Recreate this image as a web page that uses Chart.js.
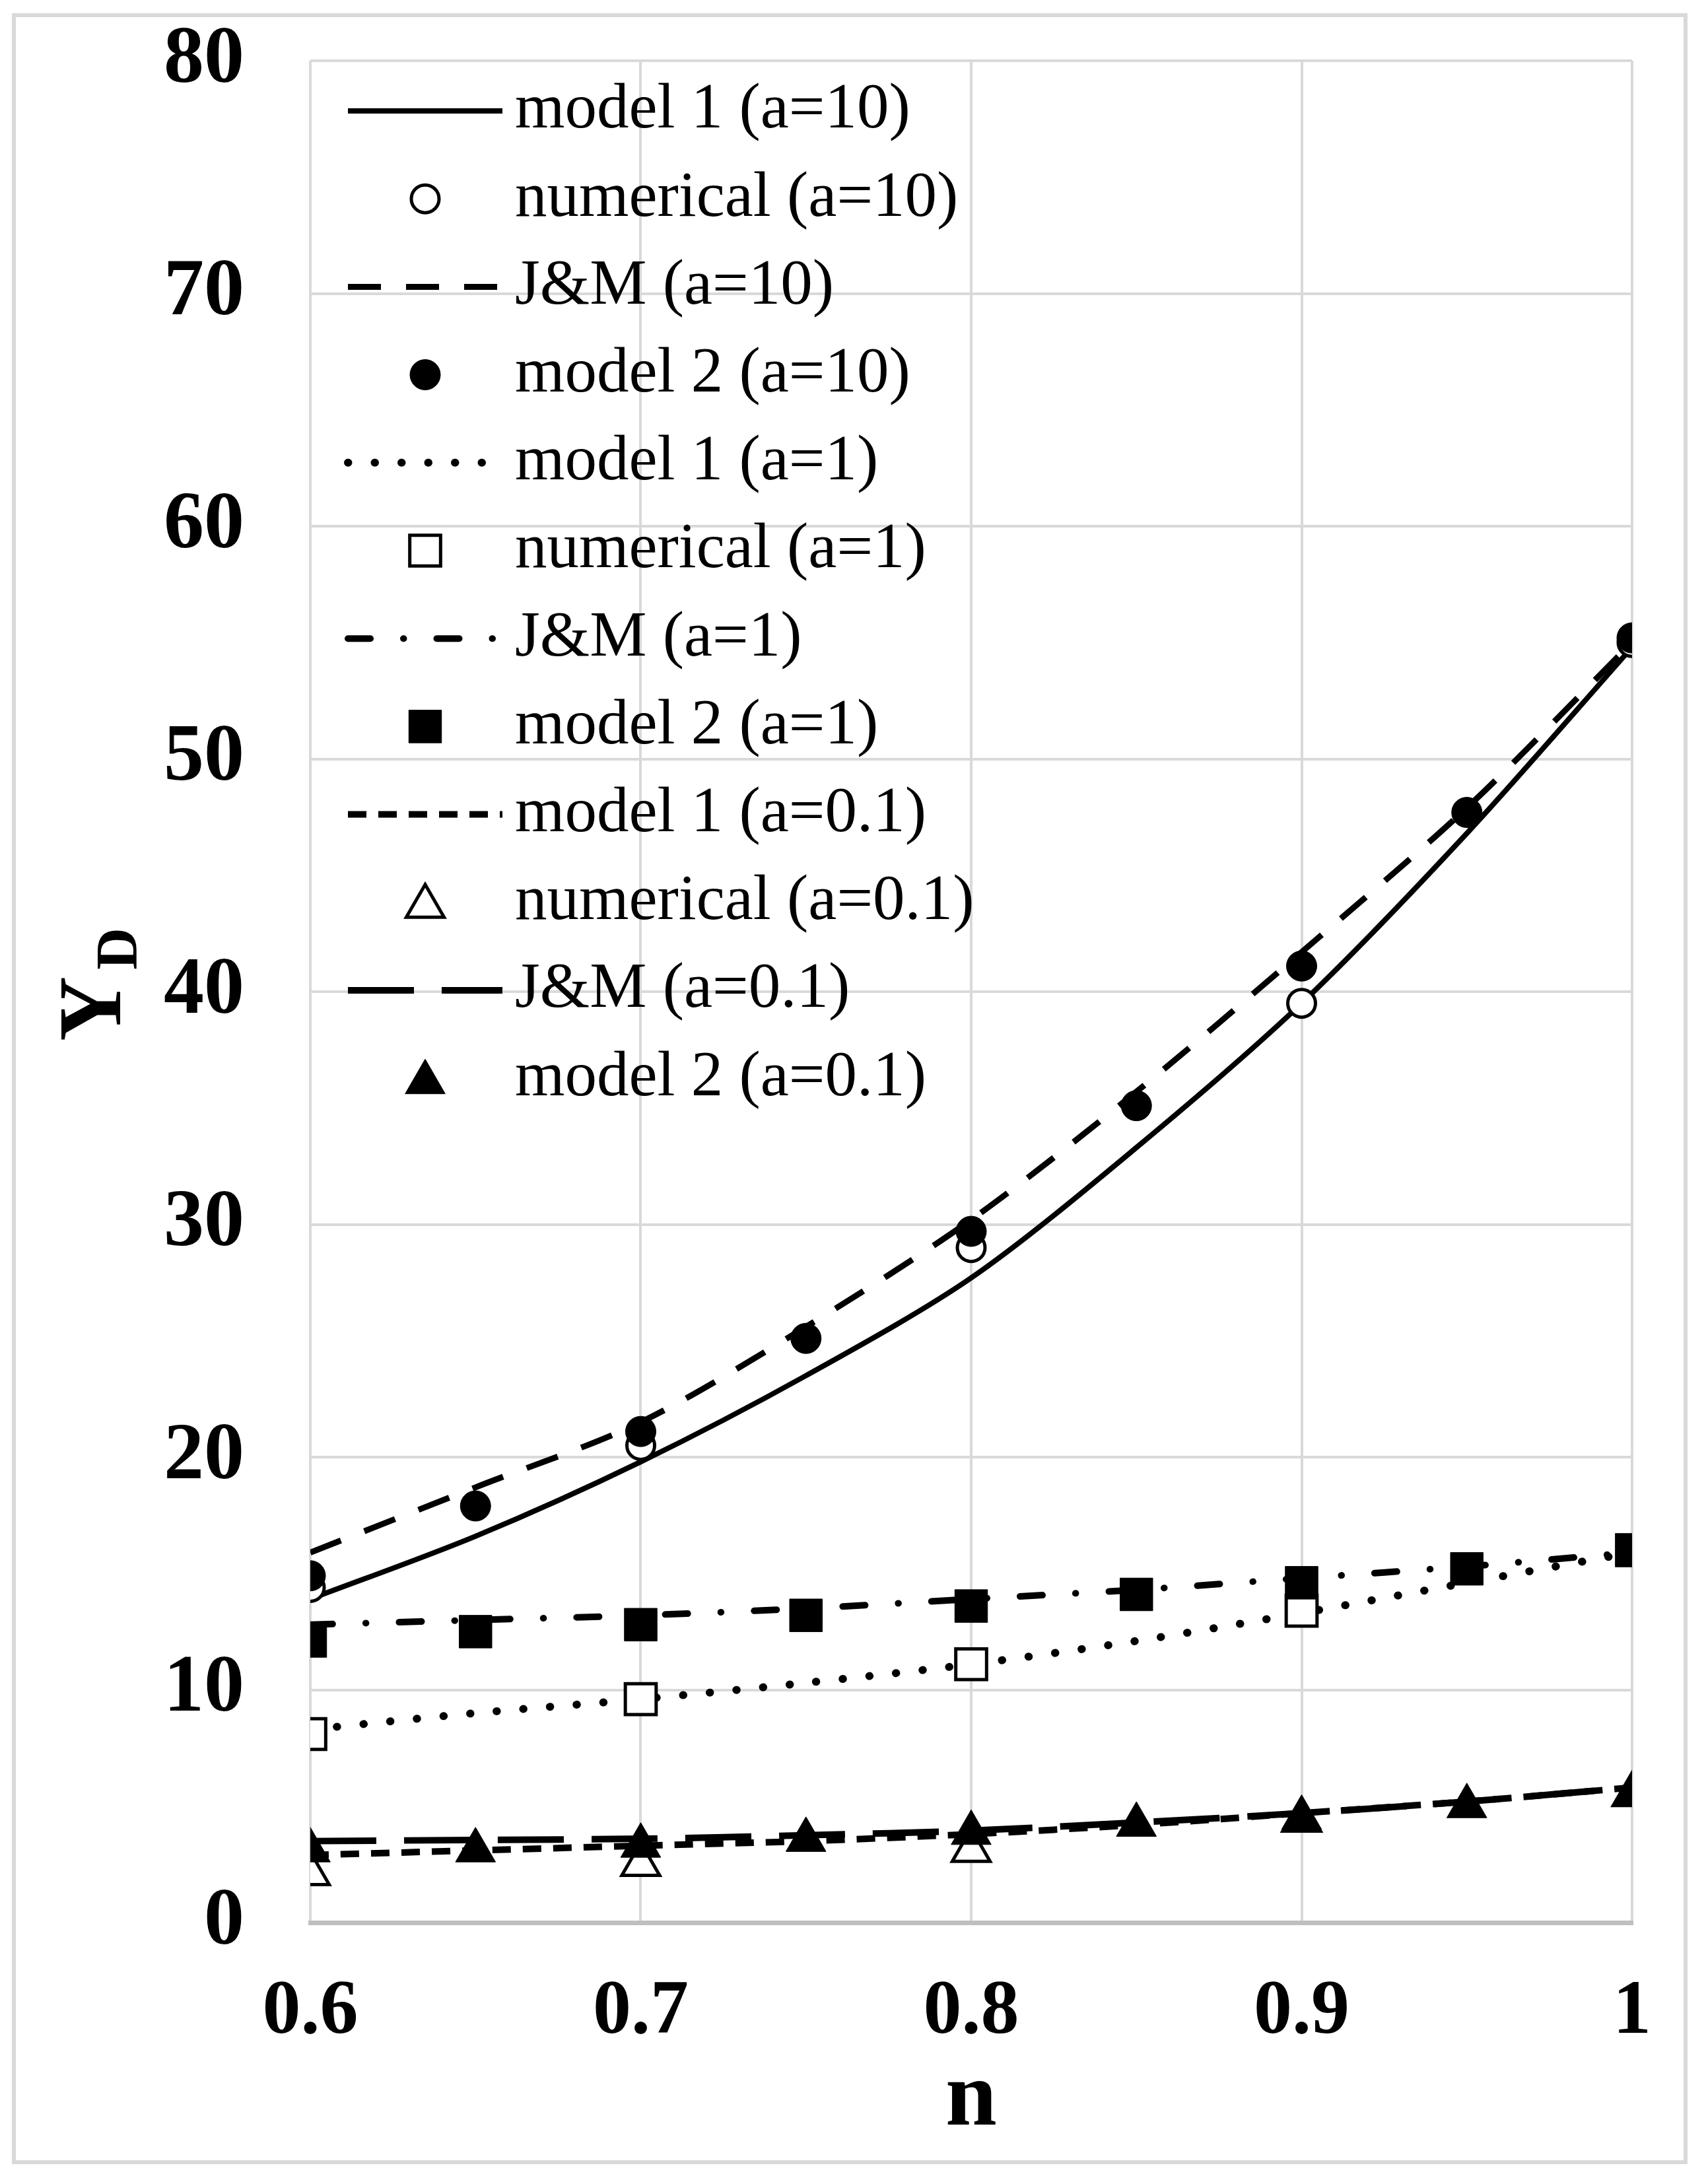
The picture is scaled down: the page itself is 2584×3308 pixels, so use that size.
<!DOCTYPE html>
<html>
<head>
<meta charset="utf-8">
<script src="https://cdn.jsdelivr.net/npm/chart.js@4.4.1/dist/chart.umd.min.js"></script>
<style>
    html, body { margin: 0; padding: 0; background: #fff; }
    canvas { display: block; }
</style>
</head>
<body>
<canvas id="chart" width="2584" height="3308"></canvas>
<script>
// n values for the model curves and for the numerical points
const nCurve = [0.6, 0.65, 0.7, 0.75, 0.8, 0.85, 0.9, 0.95, 1.0];
const nNumerical = [0.6, 0.7, 0.8, 0.9, 1.0];

// a = 10
const model1A10 = [13.9, 16.6, 19.8, 23.5, 27.7, 33.3, 39.5, 46.8, 54.8];
const numericalA10 = [14.4, 20.5, 29.0, 39.5, 55.0];
const jmA10 = [15.9, 18.7, 21.5, 25.6, 30.2, 35.7, 41.7, 47.9, 55.0];
const model2A10 = [14.9, 17.9, 21.1, 25.1, 29.7, 35.1, 41.1, 47.7, 55.2];

// a = 1
const model1A1 = [8.3, 9.0, 9.6, 10.3, 11.1, 12.1, 13.3, 14.6, 15.9];
const numericalA1 = [8.1, 9.6, 11.1, 13.4, 16.0];
const jmA1 = [12.8, 13.0, 13.2, 13.5, 13.9, 14.3, 14.8, 15.3, 15.9];
const model2A1 = [12.1, 12.5, 12.8, 13.2, 13.6, 14.1, 14.6, 15.2, 16.0];

// a = 0.1
const model1A01 = [2.9, 3.1, 3.3, 3.5, 3.8, 4.2, 4.7, 5.2, 5.8];
const numericalA01 = [2.1, 2.5, 3.1, 4.4, 5.5];
const jmA01 = [3.5, 3.55, 3.6, 3.75, 3.95, 4.3, 4.7, 5.2, 5.8];
const model2A01 = [3.1, 3.1, 3.3, 3.55, 3.85, 4.2, 4.5, 5.0, 5.5];

const labels = [
    'model 1 (a=10)', 'numerical (a=10)', 'J&M (a=10)', 'model 2 (a=10)',
    'model 1 (a=1)', 'numerical (a=1)', 'J&M (a=1)', 'model 2 (a=1)',
    'model 1 (a=0.1)', 'numerical (a=0.1)', 'J&M (a=0.1)', 'model 2 (a=0.1)'
];

const FONT = "'Liberation Serif', 'Times New Roman', serif";

const toPoints = (xs, ys) => xs.map((x, i) => ({ x, y: ys[i] }));

const curve = (label, ys, width, dash, cap) => ({
    label,
    data: toPoints(nCurve, ys),
    borderColor: '#000',
    borderWidth: width,
    borderDash: dash,
    borderCapStyle: cap || 'butt',
    pointRadius: 0,
    tension: 0.3,
    fill: false,
    order: 2
});

// filled markers sit on top of the open ones
const markers = (label, xs, ys, style, radius, filled) => ({
    label,
    data: toPoints(xs, ys),
    showLine: false,
    pointStyle: style,
    pointRadius: radius,
    pointBorderWidth: filled ? 1 : 5,
    pointBorderColor: '#000',
    pointBackgroundColor: filled ? '#000' : '#fff',
    order: filled ? 0 : 1
});

const datasets = [
    curve(labels[0], model1A10, 8, []),
    markers(labels[1], nNumerical, numericalA10, 'circle', 21, false),
    curve(labels[2], jmA10, 9, [50, 38]),
    markers(labels[3], nCurve, model2A10, 'circle', 23, true),
    curve(labels[4], model1A1, 12, [0.5, 40], 'round'),
    markers(labels[5], nNumerical, numericalA1, 'rect', 33, false),
    curve(labels[6], jmA1, 10, [34, 50, 0.5, 50], 'round'),
    markers(labels[7], nCurve, model2A1, 'rect', 35, true),
    curve(labels[8], model1A01, 10, [28, 18]),
    markers(labels[9], nNumerical, numericalA01, 'triangle', 33, false),
    curve(labels[10], jmA01, 10, [100, 42]),
    markers(labels[11], nCurve, model2A01, 'triangle', 35, true)
];

/**
 * White page and the light grey frame round the whole chart.
 */
const frame = {
    id: 'frame',
    beforeDraw(chart) {
        const { ctx, width, height } = chart;
        ctx.save();
        ctx.fillStyle = '#fff';
        ctx.fillRect(0, 0, width, height);
        ctx.restore();
    },
    afterDraw(chart) {
        const ctx = chart.ctx;
        ctx.save();
        ctx.strokeStyle = '#d9d9d9';
        ctx.lineWidth = 6;
        ctx.strokeRect(21, 23, 2532, 3252);
        ctx.restore();
    }
};

/**
 * Y axis title with a subscript D.
 */
const yTitle = {
    id: 'yTitle',
    afterDraw(chart) {
        const { ctx, chartArea } = chart;
        const cy = (chartArea.top + chartArea.bottom) / 2;
        ctx.save();
        ctx.translate(182, cy + 75);
        ctx.rotate(-Math.PI / 2);
        ctx.fillStyle = '#000';
        ctx.textAlign = 'left';
        ctx.textBaseline = 'alphabetic';
        ctx.font = 'bold 136px ' + FONT;
        ctx.fillText('Y', 0, 0);
        const w = ctx.measureText('Y').width;
        ctx.font = 'bold 88px ' + FONT;
        ctx.fillText('D', w + 10, 24);
        ctx.restore();
    }
};

const drawMarker = (ctx, style, r, x, y) => {
    ctx.beginPath();
    if (style === 'circle') {
        ctx.arc(x, y, r, 0, Math.PI * 2);
    } else if (style === 'rect') {
        const s = r * Math.SQRT1_2;
        ctx.rect(x - s, y - s, 2 * s, 2 * s);
    } else {
        const h = Math.sqrt(3) / 2 * r;
        ctx.moveTo(x, y - r);
        ctx.lineTo(x + h, y + r / 2);
        ctx.lineTo(x - h, y + r / 2);
        ctx.closePath();
    }
    ctx.fill();
    ctx.stroke();
};

/**
 * Legend drawn inside the plot area, one row per dataset.
 */
const insideLegend = {
    id: 'insideLegend',
    afterDraw(chart) {
        const { ctx, chartArea } = chart;
        const lineStart = chartArea.left + 57;
        const lineEnd = chartArea.left + 291;
        const textX = chartArea.left + 310;
        const rowGap = 133.2;

        ctx.save();
        chart.data.datasets.forEach((ds, i) => {
            const y = chartArea.top + 76 + i * rowGap;
            ctx.save();
            if (ds.showLine === false) {
                ctx.fillStyle = ds.pointBackgroundColor;
                ctx.strokeStyle = ds.pointBorderColor;
                ctx.lineWidth = ds.pointBorderWidth;
                ctx.setLineDash([]);
                const cy = ds.pointStyle === 'triangle' ? y + 6 : y;
                drawMarker(ctx, ds.pointStyle, ds.pointRadius, (lineStart + lineEnd) / 2, cy);
            } else {
                ctx.strokeStyle = ds.borderColor;
                ctx.lineWidth = ds.borderWidth;
                ctx.lineCap = ds.borderCapStyle;
                ctx.setLineDash(ds.borderDash);
                ctx.beginPath();
                ctx.moveTo(lineStart, y);
                ctx.lineTo(lineEnd, y);
                ctx.stroke();
            }
            ctx.restore();

            ctx.fillStyle = '#000';
            ctx.font = '97px ' + FONT;
            ctx.textAlign = 'left';
            ctx.textBaseline = 'middle';
            ctx.fillText(ds.label, textX, y);
        });
        ctx.restore();
    }
};

new Chart(document.getElementById('chart'), {
    type: 'line',
    data: { datasets },
    options: {
        responsive: false,
        animation: false,
        devicePixelRatio: 1,
        layout: { padding: { top: 92, right: 112, left: 0, bottom: 0 } },
        plugins: {
            legend: { display: false },
            tooltip: { enabled: false }
        },
        scales: {
            x: {
                type: 'linear',
                min: 0.6,
                max: 1,
                ticks: {
                    stepSize: 0.1,
                    padding: 67,
                    color: '#000',
                    font: { family: FONT, size: 116, weight: 'bold' },
                    callback: (v) => String(Number(v.toFixed(1)))
                },
                grid: { color: '#d9d9d9', lineWidth: 4, drawTicks: false },
                border: { display: true, color: '#bfbfbf', width: 7 },
                title: {
                    display: true,
                    text: 'n',
                    color: '#000',
                    font: { family: FONT, size: 140, weight: 'bold' },
                    padding: { top: 0, bottom: 42 }
                },
                afterFit: (scale) => { scale.height = 396; }
            },
            y: {
                type: 'linear',
                min: 0,
                max: 80,
                ticks: {
                    stepSize: 10,
                    padding: 100,
                    color: '#000',
                    font: { family: FONT, size: 122, weight: 'bold' }
                },
                grid: { color: '#d9d9d9', lineWidth: 4, drawTicks: false },
                border: { display: false },
                afterFit: (scale) => {
                    // the large tick padding must not push the plot area down
                    scale.width = 470;
                    scale.paddingTop = 0;
                    scale.paddingBottom = 0;
                }
            }
        }
    },
    plugins: [frame, yTitle, insideLegend]
});
</script>
</body>
</html>
